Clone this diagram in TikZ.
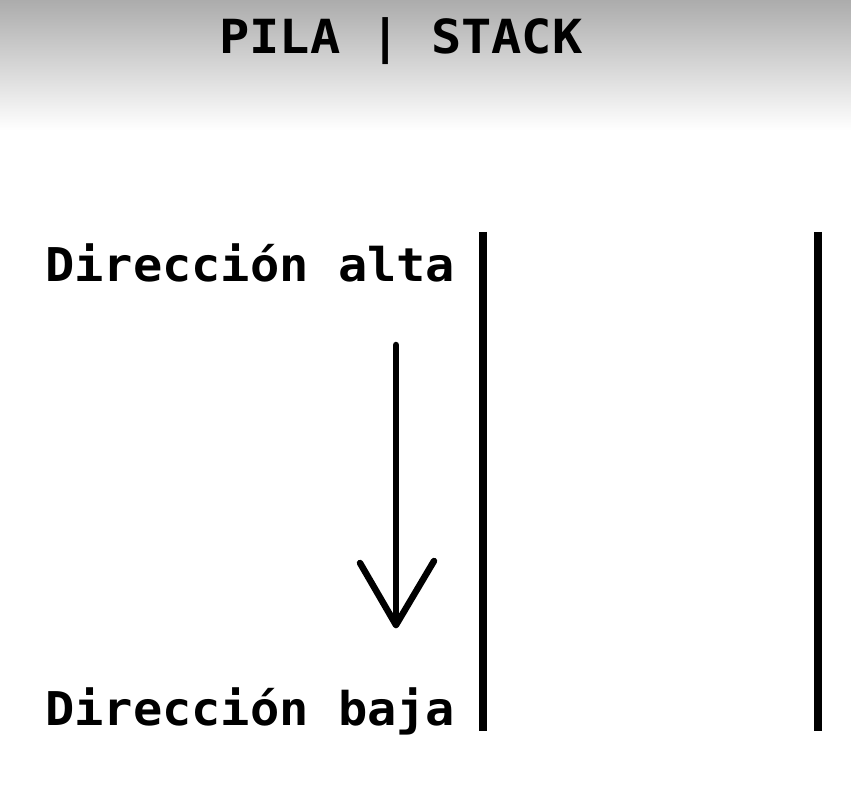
\documentclass[tikz,border=0pt]{standalone}
\usepackage{fontspec}
\newfontfamily\monoboldfont{DejaVu Sans Mono Bold}[FakeStretch=1.046]
\newfontfamily\titlefont{DejaVu Sans Mono Bold}[FakeStretch=1.07]
\begin{document}
\begin{tikzpicture}[x=1pt,y=-1pt,
  lbl/.style={anchor=base west,inner sep=0pt,font=\monoboldfont\fontsize{46.5}{46.5}\selectfont},
  ttl/.style={anchor=base west,inner sep=0pt,font=\titlefont\fontsize{47}{47}\selectfont},
  wall/.style={line width=7.5pt},
  arr/.style={line width=6.5pt,line cap=round,line join=round}]
\useasboundingbox (0,0) rectangle (851,791);
\fill[white] (0,0) rectangle (851,791);
\shade[top color={rgb,255:red,172;green,172;blue,172},middle color={rgb,255:red,228;green,228;blue,228},bottom color=white] (0,0) rectangle (851,130);
\node[ttl] (title) at (219,54) {PILA | STACK};
\node[lbl] (alta) at (45,282) {Dirección alta};
\node[lbl] (baja) at (45,725) {Dirección baja};
\coordinate (l1) at (483,232); \coordinate (l2) at (483,731);
\coordinate (r1) at (818,232); \coordinate (r2) at (818,731);
\draw[wall] (l1) -- (l2);
\draw[wall] (r1) -- (r2);
\coordinate (a1) at (396,345); \coordinate (a2) at (396,625);
\coordinate (hl) at (360,563); \coordinate (hr) at (434,561);
\draw[arr] (a1) -- (a2);
\draw[arr] (hl) -- (a2) -- (hr);
\end{tikzpicture}
\end{document}
